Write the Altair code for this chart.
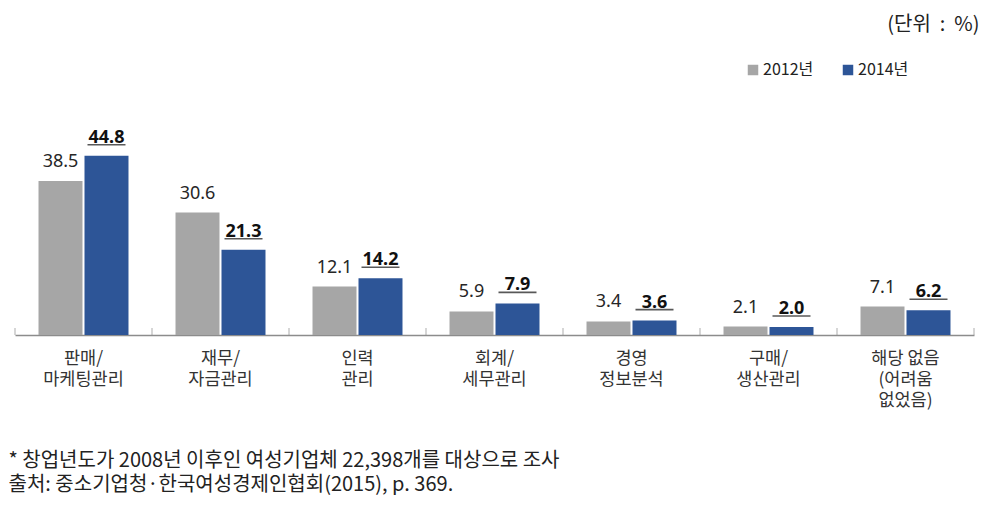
import altair as alt
import pandas as pd

categories = ["판매/\n마케팅관리", "재무/\n자금관리", "인력\n관리", "회계/\n세무관리",
              "경영\n정보분석", "구매/\n생산관리", "해당 없음\n(어려움\n없었음)"]
series = ["2012년", "2014년"]
values_2012 = [38.5, 30.6, 12.1, 5.9, 3.4, 2.1, 7.1]
values_2014 = [44.8, 21.3, 14.2, 7.9, 3.6, 2.0, 6.2]
colors = ["#A6A6A6", "#2D5597"]
unit_text = "(단위\u00a0 :\u00a0 %)"
footnotes = ["* 창업년도가 2008년 이후인 여성기업체 22,398개를 대상으로 조사",
             "출처: 중소기업청·한국여성경제인협회(2015), p. 369."]

rows = []
for c, v in zip(categories, values_2012):
    rows.append({"cat": c, "series": series[0], "value": v})
for c, v in zip(categories, values_2014):
    rows.append({"cat": c, "series": series[1], "value": v})
df = pd.DataFrame(rows)
cat_df = pd.DataFrame({"cat": categories})

FONT_KR = "Noto Sans CJK KR"

x_enc = alt.X("cat:N", sort=categories,
              scale=alt.Scale(paddingInner=0, paddingOuter=0),
              axis=alt.Axis(title=footnotes, labelAngle=0, ticks=False, tickSize=0,
                            labelPadding=14, labelFontSize=17.5, labelFont=FONT_KR,
                            labelColor="#333333", labelLineHeight=21,
                            labelBaseline="top",
                            labelExpr="split(datum.label, '\\n')",
                            domainColor="#8c8c8c", domainWidth=1.5,
                            titleFont=FONT_KR, titleFontSize=20, titleFontWeight="normal",
                            titleColor="#222222", titleAnchor="start", titleAlign="left",
                            titleBaseline="top", titleLineHeight=24,
                            titleX=-7, titleY=115))
xoff = alt.XOffset("series:N", sort=series,
                   scale=alt.Scale(paddingInner=0.0435, paddingOuter=0.511))
y_enc = alt.Y("value:Q", scale=alt.Scale(domain=[0, 60]), axis=None)

base = alt.Chart(df)

bars = base.mark_bar().encode(
    x=x_enc, xOffset=xoff, y=y_enc,
    color=alt.Color("series:N", sort=series,
                    scale=alt.Scale(domain=series, range=colors),
                    legend=alt.Legend(title=None, orient="none", direction="horizontal",
                                      legendX=730, legendY=-33, symbolType="square",
                                      symbolSize=110, symbolStrokeWidth=0,
                                      labelFont=FONT_KR, labelFontSize=16,
                                      labelColor="#222222", labelOffset=2,
                                      columnPadding=26))
)

text_2012 = base.transform_filter(alt.datum.series == series[0]).mark_text(
    dy=-14, baseline="alphabetic", fontSize=18, font="Noto Sans", color="#262626"
).encode(x=x_enc, xOffset=xoff, y=y_enc, text=alt.Text("value:Q", format=".1f"))

text_2014 = base.transform_filter(alt.datum.series == series[1]).mark_text(
    dy=-13, baseline="alphabetic", fontSize=18, font="Noto Sans", fontWeight="bold",
    color="#111111"
).encode(x=x_enc, xOffset=xoff, y=y_enc, text=alt.Text("value:Q", format=".1f"))

underline = base.transform_filter(alt.datum.series == series[1]).mark_tick(
    orient="horizontal", size=38, thickness=1.6, color="#111111", yOffset=-11
).encode(x=x_enc, xOffset=xoff, y=y_enc)

ticks_start = alt.Chart(cat_df).mark_tick(
    orient="vertical", size=7, thickness=1, color="#8c8c8c", yOffset=-3.5
).encode(x=alt.X("cat:N", sort=categories, bandPosition=0), y=alt.datum(0))

ticks_end = alt.Chart(cat_df).transform_filter(
    alt.datum.cat == categories[-1]
).mark_tick(
    orient="vertical", size=7, thickness=1, color="#8c8c8c", yOffset=-3.5
).encode(x=alt.X("cat:N", sort=categories, bandPosition=1), y=alt.datum(0))

chart = alt.layer(bars, text_2012, text_2014, underline, ticks_start, ticks_end).properties(
    width=959, height=240,
    title=alt.TitleParams(unit_text, anchor="end", font=FONT_KR, fontSize=20,
                          fontWeight="normal", color="#222222", offset=27, dx=5),
    autosize=alt.AutoSizeParams(type="none"),
    padding={"left": 7, "top": 87, "right": 7, "bottom": 160},
    background="white",
).configure_view(strokeWidth=0)

chart.save("out.html", embed_options={"renderer": "svg", "actions": False})
